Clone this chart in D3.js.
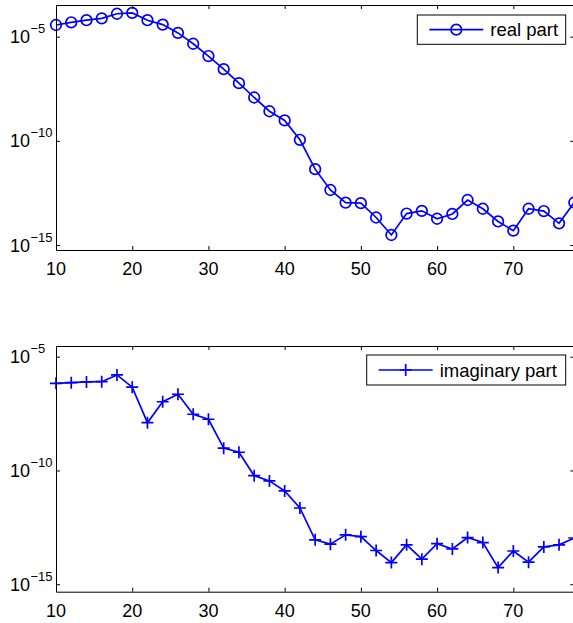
<!DOCTYPE html>
<html>
<head>
<meta charset="utf-8">
<script src="https://cdn.jsdelivr.net/npm/d3@7.9.0/dist/d3.min.js"></script>
<style>
  body { margin: 0; background: #fff; overflow: hidden; }
  svg { display: block; }
  text { font-family: "Liberation Sans", Arial, sans-serif; }
</style>
</head>
<body>
<div id="viz"></div>
<script>
// data: log10 of the values
const nValues = [10,12,14,16,18,20,22,24,26,28,30,32,34,36,38,40,42,44,46,48,50,52,54,56,58,60,62,64,66,68,70,72,74,76,78];
const realLog = [-4.44,-4.31,-4.21,-4.12,-3.90,-3.86,-4.21,-4.42,-4.82,-5.34,-5.93,-6.56,-7.23,-7.92,-8.58,-9.02,-9.95,-11.36,-12.36,-12.97,-12.99,-13.68,-14.52,-13.49,-13.36,-13.74,-13.51,-12.84,-13.26,-13.87,-14.31,-13.26,-13.37,-13.96,-12.96];
const imagLog = [-6.17,-6.14,-6.11,-6.10,-5.80,-6.34,-7.90,-6.98,-6.65,-7.53,-7.75,-9.02,-9.20,-10.23,-10.46,-10.90,-11.65,-13.05,-13.24,-12.83,-12.91,-13.52,-14.05,-13.27,-13.90,-13.22,-13.45,-12.95,-13.17,-14.27,-13.54,-14.03,-13.36,-13.27,-12.97];
const xTicks = [10,20,30,40,50,60,70];
const yTickExps = [-15,-10,-5];

const W = 573, H = 623;
const blue = "#0000ff";

const svg = d3.select("#viz").append("svg")
  .attr("width", W)
  .attr("height", H);

const x = d3.scaleLinear().domain([10, 78]).range([56, 574.3]);

function panel(opts) {
  const y = d3.scaleLog()
    .domain([Math.pow(10, opts.yMin), Math.pow(10, opts.yMax)])
    .range([opts.bottom, opts.top]);

  const g = svg.append("g");
  const pts = nValues.map((n, i) => ({ n, v: Math.pow(10, opts.values[i]) }));

  const line = d3.line().x(d => x(d.n)).y(d => y(d.v));
  g.append("path")
    .datum(pts)
    .attr("fill", "none")
    .attr("stroke", blue)
    .attr("stroke-width", 1.7)
    .attr("d", line);

  if (opts.marker === "circle") {
    g.selectAll("circle.m")
      .data(pts)
      .join("circle")
      .attr("cx", d => x(d.n))
      .attr("cy", d => y(d.v))
      .attr("r", 5.3)
      .attr("fill", "none")
      .attr("stroke", blue)
      .attr("stroke-width", 1.7);
  } else {
    g.selectAll("path.m")
      .data(pts)
      .join("path")
      .attr("d", d => {
        const cx = x(d.n), cy = y(d.v), s = 6;
        return `M${cx - s},${cy}H${cx + s}M${cx},${cy - s}V${cy + s}`;
      })
      .attr("stroke", blue)
      .attr("stroke-width", 1.7);
  }

  // axes (MATLAB box style, inward ticks)
  const yVals = yTickExps.map(e => Math.pow(10, e));
  const axisStyle = sel => {
    sel.selectAll("path.domain").attr("stroke", "#000").attr("stroke-width", 1);
    sel.selectAll(".tick line").attr("stroke", "#000");
    sel.selectAll(".tick text").remove();
  };

  svg.append("g")
    .attr("transform", `translate(${x.range()[0]},0)`)
    .call(d3.axisLeft(y).tickValues(yVals).tickSize(-4).tickSizeOuter(0))
    .call(axisStyle);
  svg.append("g")
    .attr("transform", `translate(${x.range()[1]},0)`)
    .call(d3.axisRight(y).tickValues(yVals).tickSize(-4).tickSizeOuter(0))
    .call(axisStyle);
  svg.append("g")
    .attr("transform", `translate(0,${opts.top})`)
    .call(d3.axisTop(x).tickValues(xTicks).tickSize(-4).tickSizeOuter(0))
    .call(axisStyle);
  svg.append("g")
    .attr("transform", `translate(0,${opts.bottom})`)
    .call(d3.axisBottom(x).tickValues(xTicks).tickSize(-4).tickSizeOuter(0))
    .call(axisStyle);

  // x tick labels
  svg.append("g").selectAll("text")
    .data(xTicks)
    .join("text")
    .attr("x", d => x(d))
    .attr("y", opts.bottom + 25)
    .attr("text-anchor", "middle")
    .attr("font-size", 18)
    .text(d => d);

  // y tick labels 10^e, base left-aligned like MATLAB
  const yl = svg.append("g").selectAll("text")
    .data(yTickExps)
    .join("text")
    .attr("x", 10)
    .attr("y", d => y(Math.pow(10, d)) + 6.5)
    .attr("text-anchor", "start")
    .attr("font-size", 18);
  yl.append("tspan").text("10");
  yl.append("tspan")
    .attr("font-size", 13)
    .attr("dx", 0.5)
    .attr("dy", -10)
    .text(d => "\u2212" + Math.abs(d));

  // legend
  const lg = svg.append("g");
  lg.append("rect")
    .attr("x", opts.legend.x0).attr("y", opts.legend.y0)
    .attr("width", 565.7 - opts.legend.x0).attr("height", opts.legend.h)
    .attr("fill", "#fff").attr("stroke", "#000").attr("stroke-width", 1);
  const ly = opts.legend.y0 + opts.legend.h / 2;
  const lx0 = opts.legend.x0 + 12, lx1 = lx0 + 54, lm = (lx0 + lx1) / 2;
  lg.append("line")
    .attr("x1", lx0).attr("x2", lx1).attr("y1", ly).attr("y2", ly)
    .attr("stroke", blue).attr("stroke-width", 1.7);
  if (opts.marker === "circle") {
    lg.append("circle").attr("cx", lm).attr("cy", ly).attr("r", 5.3)
      .attr("fill", "none").attr("stroke", blue).attr("stroke-width", 1.7);
  } else {
    lg.append("path").attr("d", `M${lm - 6},${ly}H${lm + 6}M${lm},${ly - 6}V${ly + 6}`)
      .attr("stroke", blue).attr("stroke-width", 1.7);
  }
  lg.append("text")
    .attr("x", lx1 + 7).attr("y", ly + 6.5)
    .attr("font-size", 18.5)
    .text(opts.label);
}

panel({ top: 5, bottom: 250, yMin: -15.24, yMax: -3.48, values: realLog,
  marker: "circle", label: "real part", legend: { x0: 417.3, y0: 15, h: 29.3 } });
panel({ top: 346, bottom: 591.7, yMin: -15.33, yMax: -4.53, values: imagLog,
  marker: "plus", label: "imaginary part", legend: { x0: 366.7, y0: 355, h: 30 } });
</script>
</body>
</html>
